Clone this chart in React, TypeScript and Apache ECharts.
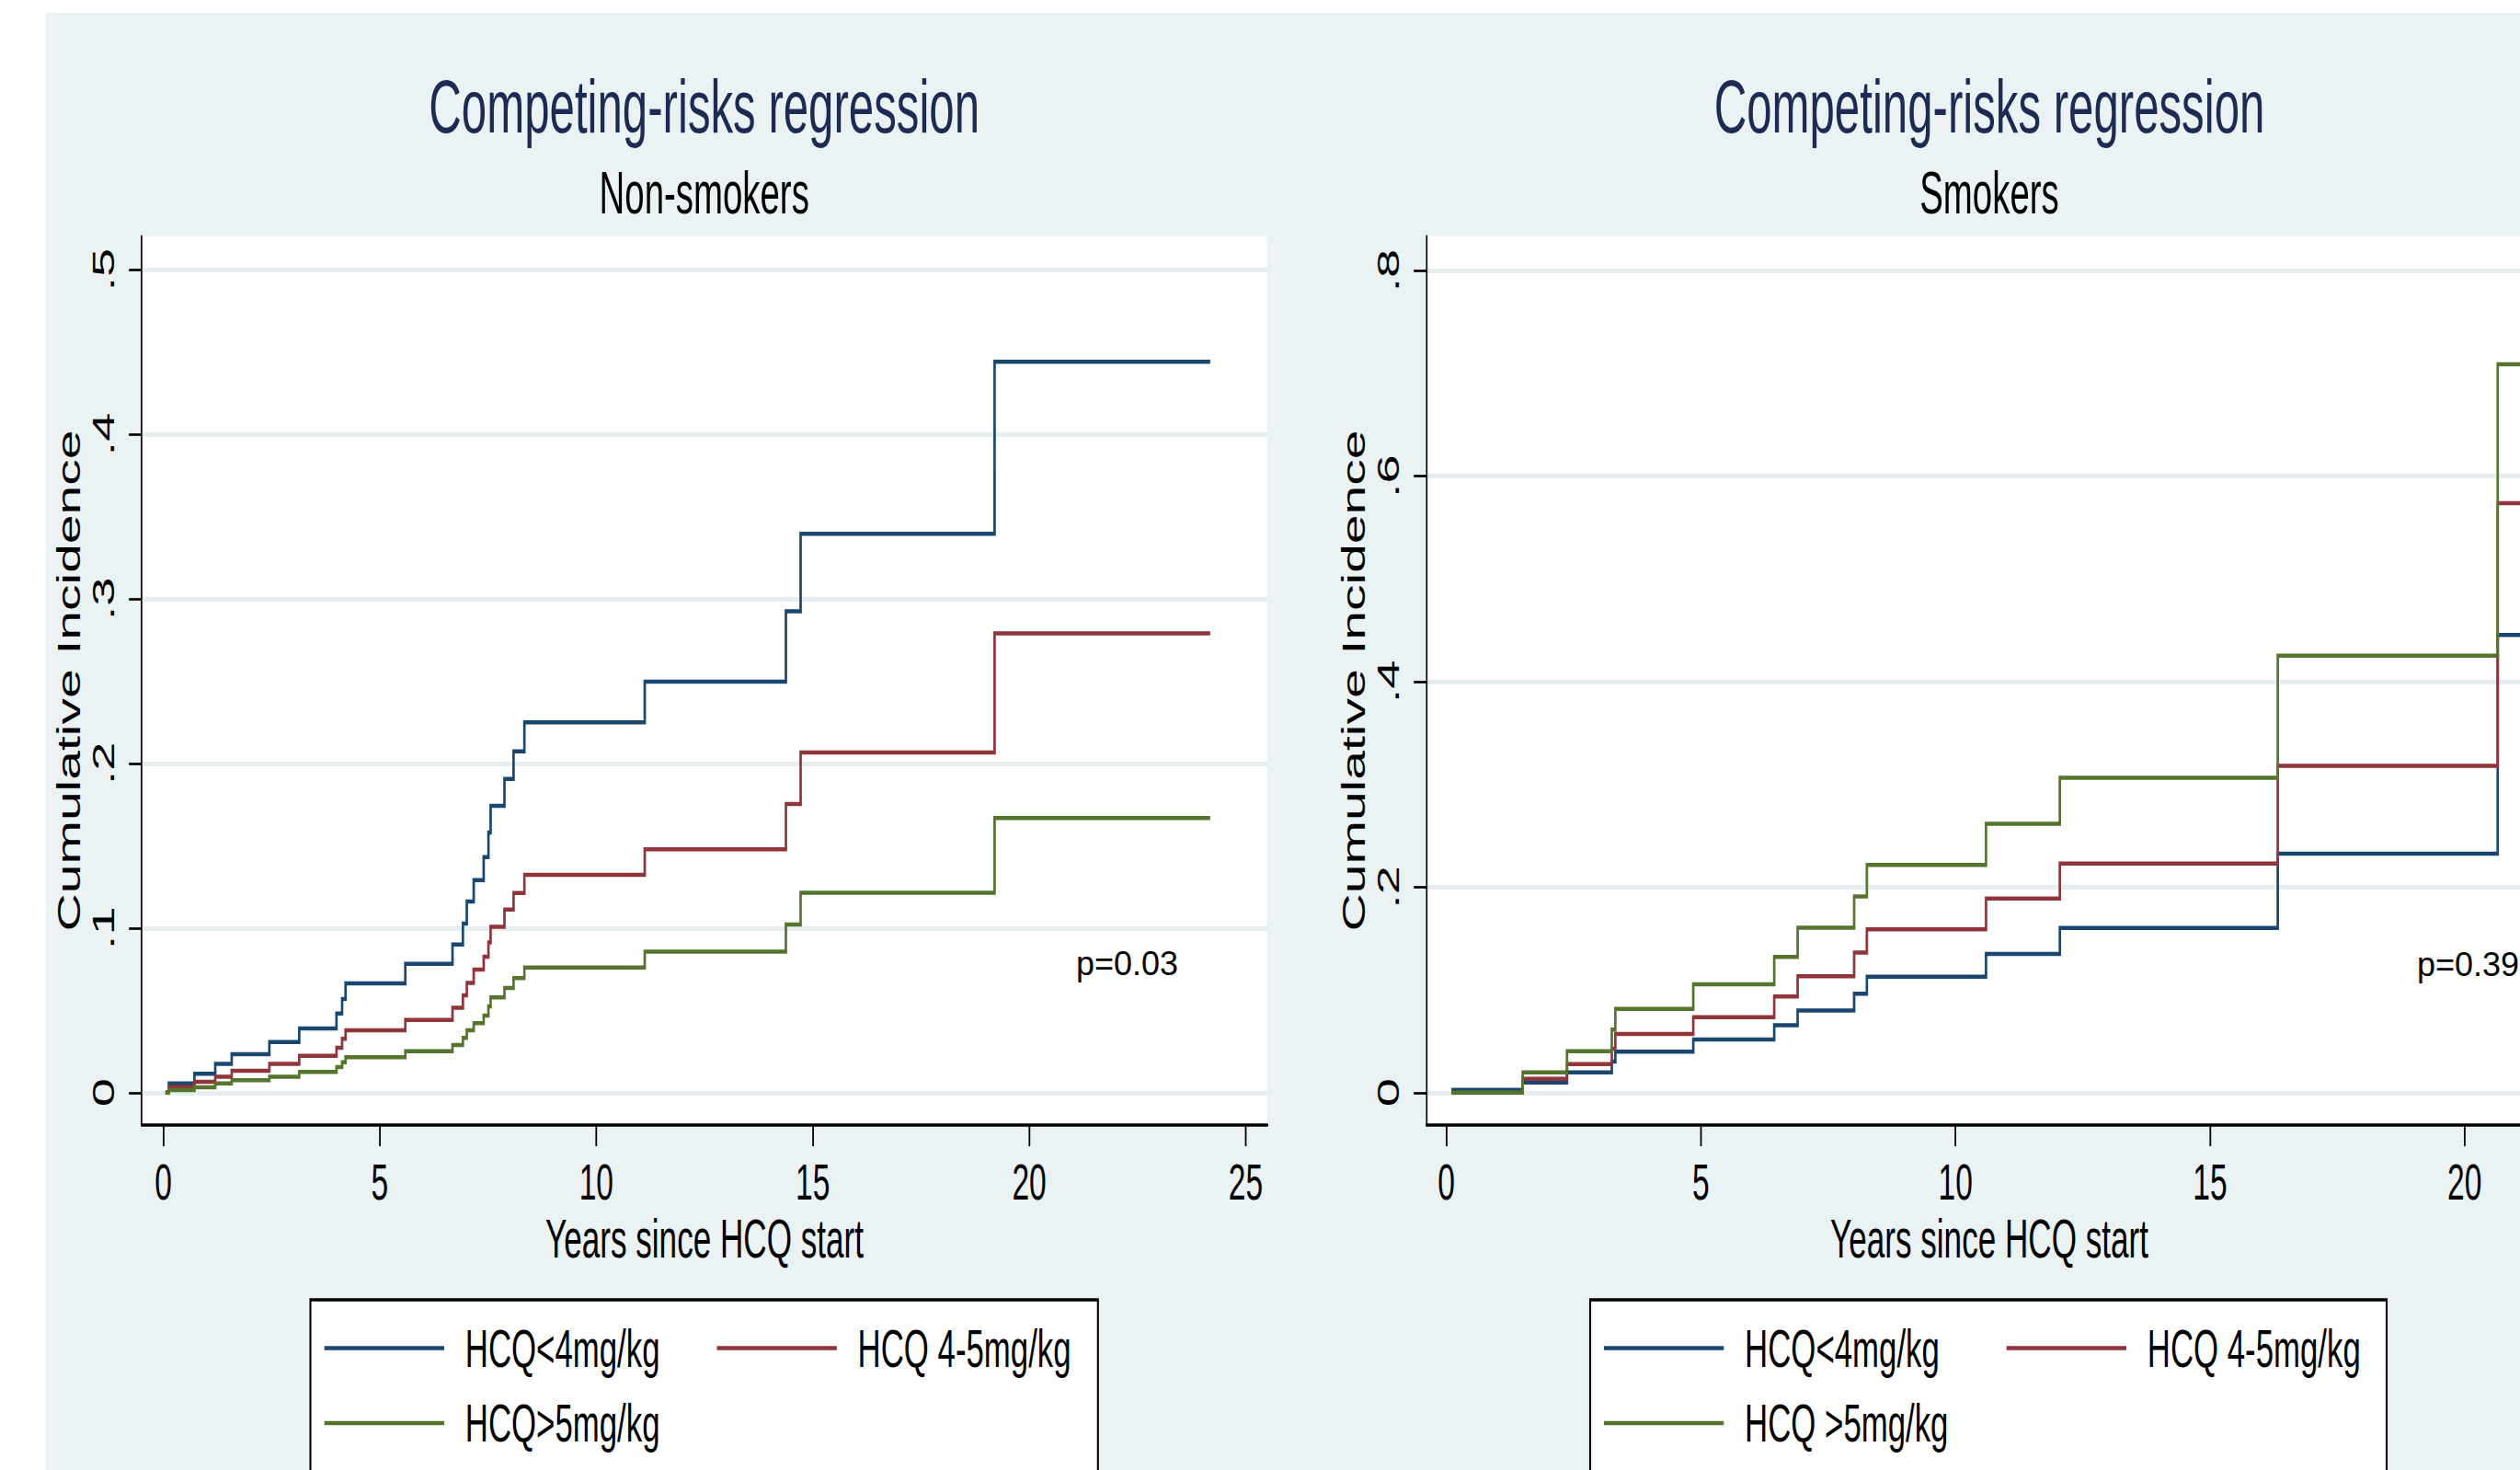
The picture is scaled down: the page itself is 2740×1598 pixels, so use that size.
import React, { useEffect, useRef } from 'react';
import * as echarts from 'echarts';

// The reference figure is horizontally compressed; we draw in an unsquashed
// frame and compress it with a CSS transform.
const S = 0.6;
const PAGE_W = 2740;
const PAGE_H = 1598;
const W = Math.ceil(PAGE_W / S);
const U = (x: number) => x / S;

const FONT = '"Liberation Sans", Arial, Helvetica, sans-serif';
const BG = '#EAF2F3';
const GRID_LINE = '#E6EEF0';
const TITLE_COLOR = '#1C2A54';

const MAIN_TITLE = 'Competing-risks regression';
const SUBTITLES = ['Non-smokers', 'Smokers'];
const X_AXIS_TITLE = 'Years since HCQ start';
const Y_AXIS_TITLE = 'Cumulative Incidence';
const P_VALUES = ['p=0.03', 'p=0.39'];

const NAMES_NONSMOKERS = ['HCQ<4mg/kg', 'HCQ 4-5mg/kg', 'HCQ>5mg/kg'];
const NAMES_SMOKERS = ['HCQ<4mg/kg', 'HCQ 4-5mg/kg', 'HCQ >5mg/kg'];
const COLORS = ['#1A476F', '#90353B', '#55752F'];

const X_TICKS_NONSMOKERS = [0, 5, 10, 15, 20, 25];
const Y_TICKS_NONSMOKERS = [0, 0.1, 0.2, 0.3, 0.4, 0.5];
const X_TICKS_SMOKERS = [0, 5, 10, 15, 20];
const Y_TICKS_SMOKERS = [0, 0.2, 0.4, 0.6, 0.8];

// Non-smokers: shared jump times and cumulative incidence per dose group
const T_NONSMOKERS = [0.05, 0.13, 0.72, 1.2, 1.58, 2.45, 3.14, 4.0, 4.13, 4.21, 5.59, 6.68, 6.92, 7.01, 7.17, 7.4, 7.51, 7.56, 7.88, 8.09, 8.34, 11.12, 14.38, 14.72, 19.2, 24.18];
const LOW_NONSMOKERS = [0, 0.0056, 0.0114, 0.0174, 0.0234, 0.0308, 0.039, 0.0481, 0.0569, 0.0664, 0.0783, 0.09, 0.1027, 0.1161, 0.1291, 0.1431, 0.158, 0.1742, 0.1906, 0.2074, 0.225, 0.2497, 0.2925, 0.3395, 0.4441, 0.4441];
const MID_NONSMOKERS = [0, 0.0034, 0.0066, 0.0096, 0.0133, 0.0174, 0.0224, 0.0273, 0.0327, 0.0379, 0.0442, 0.0515, 0.0591, 0.0666, 0.0747, 0.0826, 0.0913, 0.1008, 0.1112, 0.1213, 0.1323, 0.1478, 0.1754, 0.2067, 0.279, 0.279];
const HIGH_NONSMOKERS = [0, 0.0016, 0.0032, 0.0056, 0.0075, 0.0096, 0.0126, 0.0155, 0.0185, 0.0215, 0.0252, 0.0289, 0.0332, 0.0379, 0.0422, 0.0468, 0.0524, 0.0578, 0.0636, 0.0696, 0.076, 0.0856, 0.1021, 0.1214, 0.1669, 0.1669];

// Smokers
const T_SMOKERS = [0.1, 1.5, 2.37, 3.25, 3.32, 4.85, 6.44, 6.9, 8.01, 8.26, 10.6, 12.05, 16.33, 20.65, 21.4];
const LOW_SMOKERS = [0.0028, 0.0099, 0.0198, 0.0302, 0.0398, 0.0517, 0.0657, 0.08, 0.0964, 0.1128, 0.135, 0.1603, 0.2327, 0.4454, 0.4454];
const MID_SMOKERS = [0, 0.0135, 0.0278, 0.0428, 0.0571, 0.0735, 0.0935, 0.1134, 0.1364, 0.159, 0.189, 0.223, 0.3182, 0.5737, 0.5737];
const HIGH_SMOKERS = [0, 0.0198, 0.0404, 0.0613, 0.0815, 0.1054, 0.1322, 0.1605, 0.191, 0.2216, 0.2617, 0.3065, 0.4254, 0.7088, 0.7088];

const yFmt = (v: number) => (v === 0 ? '0' : String(+v.toFixed(2)).replace(/^0\./, '.'));

function mkSeries(name: string, times: number[], vals: number[], color: string, idx: number) {
  return {
    type: 'line',
    name,
    xAxisIndex: idx,
    yAxisIndex: idx,
    step: 'end',
    symbol: 'none',
    showSymbol: false,
    silent: true,
    clip: true,
    data: times.map((t, i) => [t, vals[i]]),
    lineStyle: { color, width: 4.5, cap: 'butt', join: 'miter' },
    itemStyle: { color },
  };
}

function mkXAxis(idx: number, min: number, max: number, ticks: number[]) {
  return {
    gridIndex: idx,
    type: 'value',
    min,
    max,
    position: 'bottom',
    axisLine: { show: true, onZero: false, lineStyle: { color: '#000', width: 3.5 } },
    axisTick: { show: true, length: 23, customValues: ticks, lineStyle: { color: '#000', width: 3 } },
    axisLabel: { customValues: ticks, fontSize: 56, margin: 34, color: '#000', fontFamily: FONT },
    splitLine: { show: false },
    name: X_AXIS_TITLE,
    nameLocation: 'middle',
    nameGap: 94,
    nameMoveOverlap: false,
    nameTextStyle: { fontSize: 58.5, color: '#000', fontFamily: FONT },
  };
}

function mkYAxis(idx: number, min: number, max: number, ticks: number[]) {
  return {
    gridIndex: idx,
    type: 'value',
    min,
    max,
    position: 'left',
    axisLine: { show: true, onZero: false, lineStyle: { color: '#000', width: 2.8 } },
    axisTick: { show: true, length: 23, customValues: ticks, lineStyle: { color: '#000', width: 2.7 } },
    axisLabel: { customValues: ticks, rotate: 90, fontSize: 56, margin: 41, color: '#000', fontFamily: FONT, formatter: yFmt },
    splitLine: { show: true, lineStyle: { color: GRID_LINE, width: 5 } },
    name: Y_AXIS_TITLE,
    nameLocation: 'middle',
    nameRotate: 90,
    nameGap: 103,
    nameMoveOverlap: false,
    nameTextStyle: { fontSize: 57, color: '#000', fontFamily: FONT },
  };
}

function mkLegend(left: number, data: string[]) {
  return {
    orient: 'vertical',
    left,
    top: 1436.6,
    padding: 0,
    icon: 'rect',
    itemWidth: U(130.3),
    itemHeight: 4.5,
    itemGap: 23.4,
    selectedMode: false,
    data,
    textStyle: { fontSize: 58, lineHeight: 58, color: '#000', fontFamily: FONT, padding: [0, 0, 0, 33] },
  };
}

function text(x: number, y: number, str: string, size: number, color: string, align = 'center', scaleX = 1) {
  return {
    type: 'text',
    x,
    y,
    scaleX,
    silent: true,
    z: 10,
    style: {
      text: str,
      fontSize: size,
      fontFamily: FONT,
      fill: color,
      align,
      textAlign: align,
      verticalAlign: 'middle',
      textVerticalAlign: 'middle',
    },
  };
}

export default function App() {
  const ref = useRef<HTMLDivElement>(null);

  useEffect(() => {
    if (!ref.current) return;
    const chart = echarts.init(ref.current, null, { renderer: 'svg' });

    const option = {
      animation: false,
      backgroundColor: BG,
      textStyle: { fontFamily: FONT },
      grid: [
        { left: U(154), top: 257, width: U(1224), height: 966, show: true, backgroundColor: '#fff', borderWidth: 0, containLabel: false, outerBoundsMode: 'none' },
        { left: U(1551), top: 257, width: U(1224), height: 966, show: true, backgroundColor: '#fff', borderWidth: 0, containLabel: false, outerBoundsMode: 'none' },
      ],
      xAxis: [
        mkXAxis(0, -0.5, 25.5, X_TICKS_NONSMOKERS),
        mkXAxis(1, -0.39, 21.72, X_TICKS_SMOKERS),
      ],
      yAxis: [
        mkYAxis(0, -0.0197, 0.5202, Y_TICKS_NONSMOKERS),
        mkYAxis(1, -0.0315, 0.8333, Y_TICKS_SMOKERS),
      ],
      legend: [
        mkLegend(U(352.7), [NAMES_NONSMOKERS[0], NAMES_NONSMOKERS[2]]),
        mkLegend(U(779.5), [NAMES_NONSMOKERS[1]]),
        mkLegend(U(1744), [NAMES_SMOKERS[0], NAMES_SMOKERS[2]]),
        mkLegend(U(2181.7), [NAMES_SMOKERS[1]]),
      ],
      graphic: [
        { type: 'rect', silent: true, z: 0, shape: { x: 0, y: 0, width: W, height: 14 }, style: { fill: '#fff' } },
        { type: 'rect', silent: true, z: 0, shape: { x: 0, y: 0, width: U(50), height: PAGE_H }, style: { fill: '#fff' } },
        { type: 'rect', silent: true, z: 1, shape: { x: U(337.5), y: 1413, width: U(856.3), height: 400 }, style: { fill: '#fff', stroke: '#000', lineWidth: 3.5 } },
        { type: 'rect', silent: true, z: 1, shape: { x: U(1729), y: 1413, width: U(866), height: 400 }, style: { fill: '#fff', stroke: '#000', lineWidth: 3.5 } },
        text(U(765.7), 116, MAIN_TITLE, 82, TITLE_COLOR),
        text(U(765.7), 210, SUBTITLES[0], 64, '#000'),
        text(U(2163), 116, MAIN_TITLE, 82, TITLE_COLOR),
        text(U(2163), 210, SUBTITLES[1], 64, '#000'),
        text(U(1170), 1048, P_VALUES[0], 36, '#000', 'left', 1 / S),
        text(U(2628), 1049, P_VALUES[1], 36, '#000', 'left', 1 / S),
      ],
      series: [
        mkSeries(NAMES_NONSMOKERS[0], T_NONSMOKERS, LOW_NONSMOKERS, COLORS[0], 0),
        mkSeries(NAMES_NONSMOKERS[1], T_NONSMOKERS, MID_NONSMOKERS, COLORS[1], 0),
        mkSeries(NAMES_NONSMOKERS[2], T_NONSMOKERS, HIGH_NONSMOKERS, COLORS[2], 0),
        mkSeries(NAMES_SMOKERS[0], T_SMOKERS, LOW_SMOKERS, COLORS[0], 1),
        mkSeries(NAMES_SMOKERS[1], T_SMOKERS, MID_SMOKERS, COLORS[1], 1),
        mkSeries(NAMES_SMOKERS[2], T_SMOKERS, HIGH_SMOKERS, COLORS[2], 1),
      ],
    };

    chart.setOption(option as any);
    return () => chart.dispose();
  }, []);

  return (
    <div style={{ position: 'absolute', left: 0, top: 0, width: PAGE_W, height: PAGE_H, overflow: 'hidden', background: '#fff' }}>
      <div
        ref={ref}
        style={{ width: W, height: PAGE_H, transform: `scaleX(${S})`, transformOrigin: '0 0' }}
      />
    </div>
  );
}
